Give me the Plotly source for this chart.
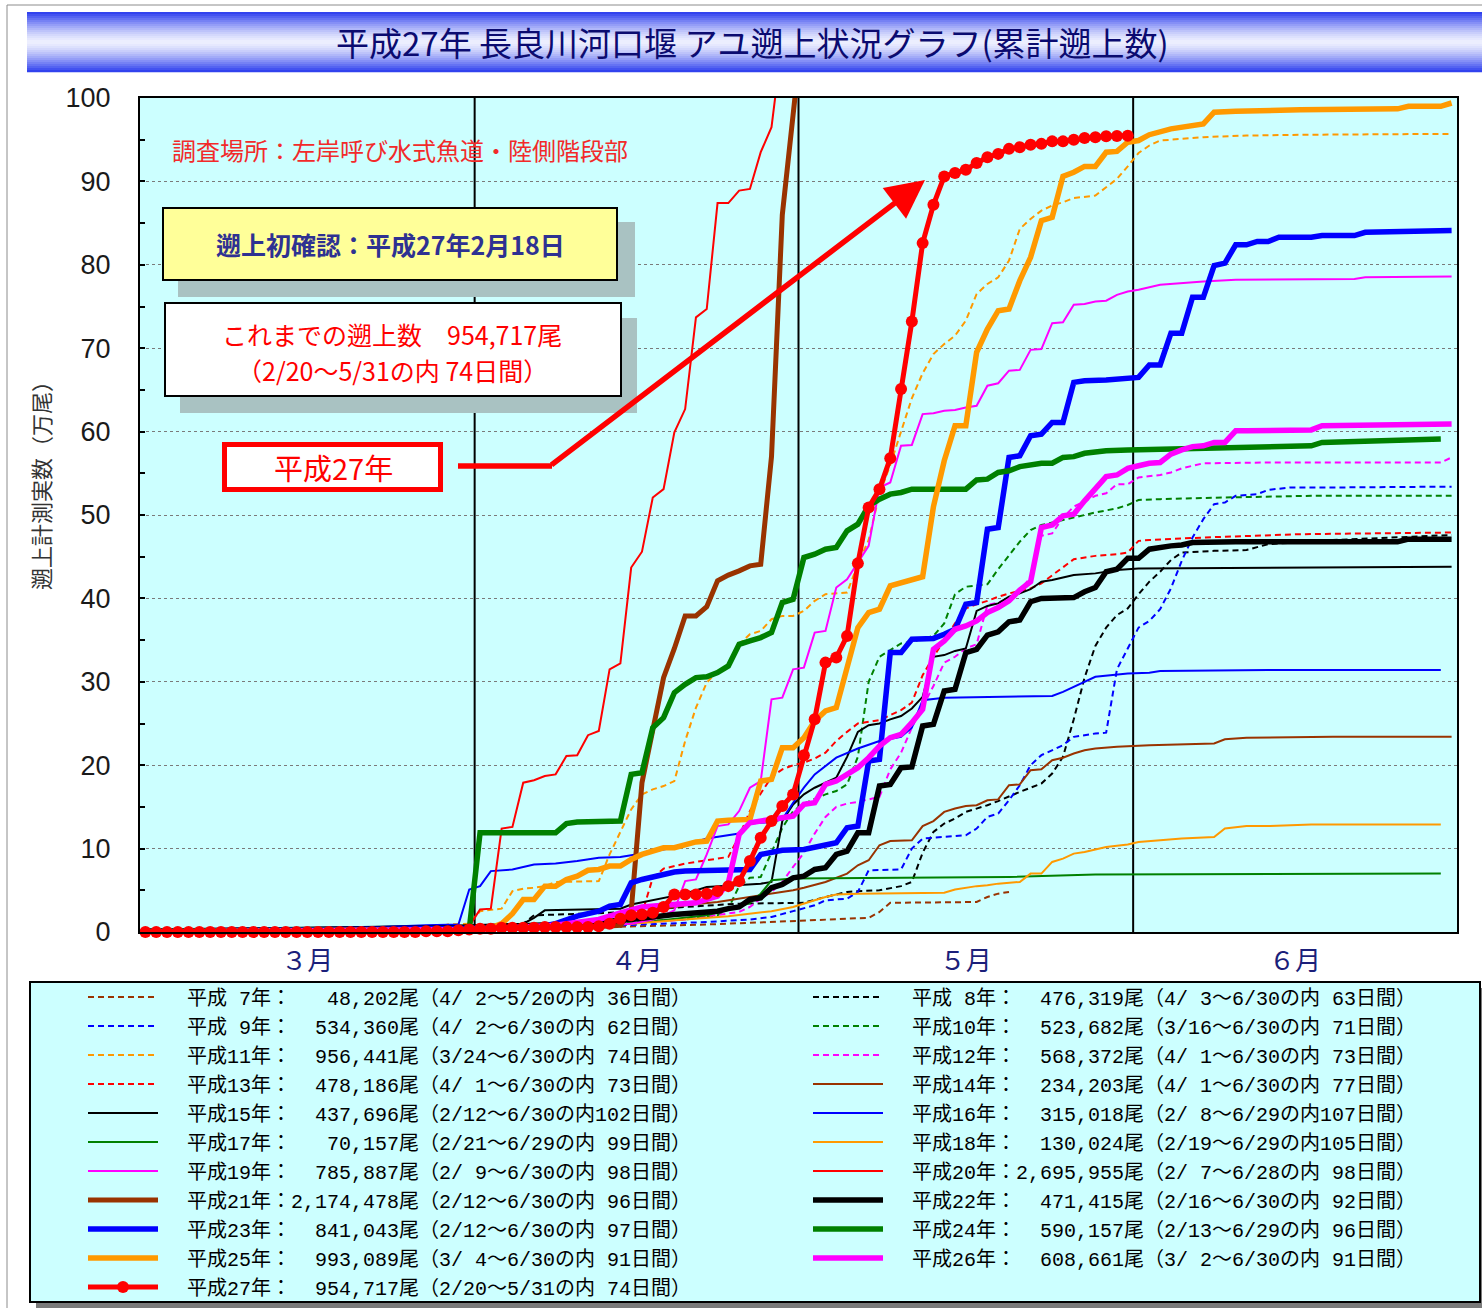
import plotly.graph_objects as go

# ---------------- data ----------------
# x = day index counted from 3/1 (3/1=0, 4/1=31, 5/1=61, 6/1=92, 6/30=121); y = cumulative count (万尾)
H07_day = [31, 40, 48, 52, 56, 60, 63, 67, 68, 69, 77, 78, 79, 80]
H07_val = [0.2, 0.5, 0.7, 0.9, 1.1, 1.3, 1.5, 1.7, 2.4, 3.5, 3.6, 4.2, 4.6, 4.8]

H08_day = [33, 35, 36, 43, 50, 55, 61, 63, 65, 66, 68, 70, 71, 72, 73, 74, 75, 76, 78, 79, 81, 82, 83, 84, 85, 86, 87, 88, 89, 90, 91, 92, 93, 94, 95, 96, 99, 102, 104, 110, 121]
H08_val = [0.3, 1.0, 2.0, 2.3, 3.0, 3.4, 3.5, 4.2, 4.8, 4.9, 5.0, 5.5, 6.0, 9.5, 12.0, 13.0, 13.6, 14.4, 15.2, 15.7, 16.8, 17.3, 17.8, 19.0, 21.0, 25.5, 30.5, 34.3, 36.5, 38.0, 38.8, 40.5, 42.0, 43.2, 44.6, 45.5, 45.7, 45.8, 46.5, 47.0, 47.6]

H09_day = [32, 45, 52, 56, 58, 60, 62, 63, 65, 66, 67, 70, 71, 72, 74, 76, 77, 78, 79, 80, 81, 82, 83, 84, 85, 86, 88, 89, 90, 91, 92, 93, 94, 95, 96, 97, 98, 99, 100, 101, 103, 104, 106, 110, 121]
H09_val = [0.2, 0.8, 1.2, 1.5, 1.8, 2.5, 3.2, 3.8, 4.0, 4.8, 7.4, 7.5, 10.0, 11.2, 11.4, 11.6, 12.4, 13.8, 14.2, 15.8, 17.6, 20.0, 21.2, 21.8, 22.4, 23.4, 23.8, 23.9, 31.5, 34.0, 36.5, 37.3, 38.7, 41.2, 44.5, 47.3, 49.5, 51.3, 51.5, 52.3, 52.5, 53.0, 53.3, 53.3, 53.4]

H10_day = [15, 30, 40, 50, 53, 54, 55, 56, 57, 58, 59, 60, 61, 63, 64, 65, 66, 67, 68, 69, 70, 71, 73, 74, 75, 76, 78, 79, 80, 81, 82, 83, 85, 88, 90, 91, 92, 94, 100, 108, 121]
H10_val = [0.1, 0.5, 1.0, 1.5, 2.0, 2.8, 5.5, 6.5, 6.6, 9.5, 12.5, 14.5, 15.4, 16.5, 16.9, 17.7, 21.0, 30.0, 33.0, 33.8, 34.6, 34.8, 35.5, 37.0, 40.5, 41.4, 41.7, 43.5, 45.2, 46.8, 48.2, 48.8, 49.4, 50.3, 50.8, 51.2, 51.8, 51.9, 52.1, 52.3, 52.3]

H11_day = [23, 27, 28, 30, 31, 33, 34, 35, 36, 37, 38, 42, 43, 44, 45, 46, 47, 48, 49, 50, 51, 52, 53, 54, 55, 56, 57, 58, 59, 60, 61, 62, 63, 65, 66, 67, 68, 69, 70, 71, 72, 73, 74, 75, 76, 77, 78, 79, 80, 81, 82, 83, 84, 85, 86, 88, 89, 90, 91, 92, 93, 94, 95, 98, 102, 108, 121]
H11_val = [0.1, 0.5, 0.9, 1.0, 2.5, 2.8, 4.9, 5.2, 5.3, 5.5, 6.0, 6.1, 9.3, 12.1, 14.7, 16.5, 17.1, 17.5, 18.1, 22.9, 26.9, 29.9, 31.3, 31.9, 34.5, 35.7, 36.1, 37.5, 37.9, 37.9, 38.5, 39.7, 40.5, 40.7, 44.1, 47.0, 52.5, 56.0, 60.0, 64.0, 67.0, 69.3, 70.5, 71.5, 73.3, 76.5, 77.7, 78.5, 80.5, 84.3, 85.5, 86.5, 87.1, 87.5, 88.0, 88.3, 89.3, 90.3, 91.8, 93.4, 94.3, 94.9, 95.0, 95.3, 95.5, 95.6, 95.7]

H12_day = [31, 45, 50, 54, 55, 56, 57, 58, 59, 60, 61, 62, 63, 64, 65, 66, 67, 68, 69, 70, 71, 72, 73, 74, 75, 76, 77, 78, 79, 80, 81, 82, 83, 84, 85, 86, 88, 89, 90, 91, 92, 94, 95, 96, 98, 104, 120, 121]
H12_val = [0.2, 1.0, 1.5, 2.2, 2.4, 3.0, 4.0, 4.8, 6.0, 7.8, 9.5, 11.8, 13.8, 15.0, 15.4, 15.6, 15.9, 16.2, 19.5, 21.5, 24.5, 27.0, 29.5, 32.3, 33.0, 34.0, 34.5, 39.2, 39.5, 40.0, 41.0, 42.5, 47.5, 47.8, 49.7, 51.0, 52.3, 52.6, 53.7, 53.7, 54.5, 54.8, 55.1, 55.6, 56.2, 56.3, 56.3, 56.9]

H13_day = [31, 40, 44, 46, 47, 48, 50, 52, 54, 55, 56, 57, 58, 59, 60, 61, 62, 63, 64, 65, 66, 67, 68, 69, 70, 71, 72, 73, 74, 75, 76, 77, 78, 79, 80, 81, 82, 83, 84, 85, 86, 88, 90, 91, 92, 93, 98, 107, 121]
H13_val = [0.3, 1.0, 1.5, 2.2, 6.5, 7.6, 8.2, 8.6, 9.0, 11.5, 14.5, 16.6, 18.6, 19.5, 20.0, 20.3, 20.8, 21.5, 22.9, 24.0, 25.0, 25.2, 25.4, 26.0, 26.6, 27.5, 30.8, 33.0, 35.0, 37.0, 38.8, 39.3, 39.7, 40.2, 40.6, 40.9, 41.2, 41.8, 42.8, 43.8, 44.7, 45.1, 45.3, 45.5, 46.9, 47.0, 47.3, 47.7, 47.9]

H14_day = [31, 40, 44, 46, 48, 50, 53, 56, 60, 61, 63, 65, 66, 67, 68, 69, 71, 72, 73, 74, 75, 76, 77, 78, 79, 80, 81, 82, 83, 84, 85, 86, 87, 88, 90, 93, 99, 100, 102, 110, 121]
H14_val = [0.2, 0.8, 1.5, 2.2, 2.8, 3.2, 3.6, 4.2, 5.0, 5.3, 6.0, 7.0, 8.0, 8.6, 10.4, 10.9, 11.0, 12.7, 13.3, 14.4, 14.8, 15.1, 15.2, 15.8, 15.9, 17.6, 17.7, 19.4, 19.5, 20.6, 20.9, 21.4, 21.8, 22.0, 22.2, 22.4, 22.6, 23.1, 23.3, 23.4, 23.4]

H15_day = [0, 30, 35, 36, 37, 44, 45, 47, 50, 52, 57, 58, 59, 60, 61, 62, 63, 64, 65, 66, 67, 68, 69, 70, 71, 72, 73, 74, 75, 76, 77, 78, 79, 80, 81, 82, 83, 84, 85, 86, 88, 90, 92, 121]
H15_val = [0.2, 0.8, 1.0, 1.7, 2.6, 2.8, 3.3, 3.8, 4.6, 5.4, 5.8, 6.0, 13.3, 15.3, 16.5, 17.3, 17.9, 18.5, 21.0, 24.0, 24.8, 25.0, 25.5, 25.9, 26.8, 28.2, 33.0, 33.2, 33.7, 34.0, 38.5, 39.1, 39.4, 40.2, 40.6, 41.1, 42.0, 42.2, 42.5, 42.8, 43.0, 43.4, 43.6, 43.8]

H16_day = [0, 20, 26, 29, 30, 31, 32, 34, 36, 38, 40, 42, 44, 46, 48, 50, 52, 55, 56, 58, 59, 60, 61, 62, 64, 66, 68, 70, 71, 72, 74, 84, 85, 86, 88, 91, 93, 94, 104, 120]
H16_val = [0.1, 0.5, 0.8, 0.9, 5.1, 5.5, 7.3, 7.5, 8.1, 8.2, 8.5, 8.9, 9.0, 9.4, 9.9, 10.4, 11.2, 11.8, 13.0, 13.2, 13.5, 15.5, 17.3, 18.9, 20.9, 22.0, 22.9, 23.4, 24.5, 27.8, 28.1, 28.3, 28.8, 29.4, 30.6, 31.0, 31.1, 31.3, 31.4, 31.4]

H17_day = [0, 30, 45, 52, 55, 56, 57, 58, 60, 80, 88, 120]
H17_val = [0.1, 0.3, 1.0, 2.0, 3.0, 3.5, 4.6, 6.2, 6.4, 6.6, 6.9, 7.0]

H18_day = [0, 30, 40, 45, 50, 54, 58, 60, 62, 63, 64, 66, 74, 75, 77, 78, 79, 81, 82, 83, 84, 85, 86, 87, 88, 89, 91, 92, 94, 96, 99, 100, 102, 104, 108, 120]
H18_val = [0.1, 0.2, 0.6, 1.0, 1.5, 1.9, 2.5, 3.0, 3.8, 4.2, 4.5, 4.6, 4.7, 5.1, 5.5, 5.6, 5.8, 6.0, 7.0, 7.0, 8.4, 8.8, 9.4, 9.6, 9.9, 10.2, 10.5, 10.8, 11.0, 11.2, 11.4, 12.4, 12.7, 12.7, 12.9, 12.9]

H19_day = [0, 30, 40, 45, 47, 48, 49, 50, 51, 52, 53, 54, 55, 56, 57, 58, 59, 60, 61, 62, 63, 64, 65, 66, 67, 68, 69, 70, 71, 72, 73, 74, 75, 76, 77, 78, 79, 80, 81, 82, 83, 84, 85, 86, 87, 88, 89, 90, 91, 92, 93, 94, 98, 101, 112, 113, 121]
H19_val = [0.1, 0.4, 0.8, 1.0, 1.5, 2.0, 2.6, 6.1, 6.3, 9.3, 12.7, 12.9, 14.5, 17.3, 18.1, 27.9, 28.1, 31.5, 31.7, 35.9, 36.1, 41.3, 42.3, 44.3, 46.3, 53.3, 53.9, 58.3, 58.4, 62.1, 62.2, 62.5, 62.6, 62.9, 63.1, 65.5, 65.8, 67.3, 67.4, 69.8, 69.9, 73.0, 73.1, 75.2, 75.3, 75.6, 75.7, 76.4, 76.8, 77.0, 77.3, 77.6, 78.0, 78.2, 78.3, 78.5, 78.6]

H20_day = [0, 29, 30, 31, 32, 33, 34, 35, 36, 37, 38, 39, 40, 41, 42, 43, 44, 45, 46, 47, 48, 49, 50, 51, 52, 53, 54, 55, 56, 57, 58, 59]
H20_val = [0.1, 0.2, 0.7, 2.7, 2.8, 12.4, 12.6, 17.9, 18.2, 18.7, 18.9, 21.1, 21.2, 23.6, 24.1, 31.5, 32.2, 43.7, 45.6, 52.1, 53.1, 59.9, 62.7, 73.7, 74.7, 87.4, 87.4, 88.9, 89.1, 93.5, 96.5, 107.0]

H21_day = [0, 30, 40, 44, 45, 46, 47, 48, 49, 50, 51, 52, 53, 54, 55, 56, 57, 58, 59, 60, 61]
H21_val = [0.1, 0.3, 0.5, 0.8, 2.5, 17.9, 24.0, 30.5, 34.0, 37.9, 37.9, 39.0, 42.1, 42.8, 43.3, 43.9, 44.1, 57.0, 86.0, 99.0, 110.0]

H22_day = [0, 30, 40, 45, 49, 52, 53, 54, 55, 56, 57, 58, 59, 60, 61, 62, 63, 64, 65, 66, 67, 68, 69, 70, 71, 72, 73, 74, 75, 76, 77, 78, 79, 80, 81, 82, 83, 86, 87, 88, 89, 90, 91, 92, 93, 95, 96, 97, 101, 116, 117, 121]
H22_val = [0.1, 0.5, 1.0, 1.5, 2.1, 2.3, 2.5, 2.8, 3.0, 3.9, 4.1, 5.3, 5.7, 6.5, 6.7, 7.5, 7.7, 9.3, 9.7, 11.9, 11.9, 17.5, 17.7, 19.7, 19.8, 24.7, 24.9, 28.9, 29.1, 33.5, 33.9, 35.6, 36.0, 37.2, 37.4, 39.6, 40.0, 40.1, 40.8, 41.3, 43.2, 43.5, 44.8, 44.8, 45.9, 46.3, 46.4, 46.7, 46.8, 46.8, 47.1, 47.1]

H23_day = [0, 30, 36, 38, 39, 40, 42, 43, 44, 45, 46, 47, 48, 49, 50, 55, 56, 57, 58, 59, 61, 62, 63, 64, 65, 66, 67, 68, 69, 70, 71, 73, 74, 75, 76, 77, 78, 79, 80, 81, 82, 83, 84, 85, 86, 87, 89, 90, 91, 92, 93, 94, 95, 96, 97, 98, 99, 100, 101, 102, 103, 104, 105, 108, 109, 112, 113, 117, 121]
H23_val = [0.1, 0.3, 0.5, 1.0, 1.5, 1.9, 2.5, 3.1, 3.3, 5.9, 6.3, 6.6, 6.9, 7.2, 7.3, 7.4, 7.5, 9.3, 9.5, 9.8, 9.9, 10.2, 10.5, 10.7, 12.5, 12.7, 20.5, 20.7, 33.5, 33.5, 35.1, 35.2, 35.7, 36.3, 39.3, 39.5, 48.3, 48.5, 56.9, 57.1, 59.5, 59.7, 61.1, 61.1, 65.9, 66.1, 66.2, 66.3, 66.5, 66.5, 68.0, 68.0, 71.8, 71.8, 76.1, 76.1, 79.9, 80.2, 82.4, 82.4, 82.8, 82.8, 83.3, 83.3, 83.5, 83.5, 83.9, 84.0, 84.1]

H24_day = [0, 30, 31, 38, 39, 40, 44, 45, 46, 47, 48, 49, 50, 51, 52, 53, 54, 55, 56, 57, 58, 59, 60, 61, 62, 63, 64, 65, 66, 67, 68, 69, 70, 71, 76, 77, 78, 79, 80, 81, 83, 84, 85, 86, 87, 89, 91, 98, 108, 109, 117, 120]
H24_val = [0.1, 0.3, 11.9, 11.9, 13.0, 13.2, 13.3, 18.9, 19.1, 24.5, 25.7, 28.7, 29.7, 30.5, 30.6, 31.1, 31.9, 34.5, 34.9, 35.3, 35.9, 39.5, 39.9, 44.9, 45.3, 45.9, 46.1, 48.1, 48.9, 51.1, 51.9, 52.5, 52.7, 53.1, 53.1, 54.2, 54.3, 55.1, 55.3, 55.8, 56.2, 56.2, 56.9, 57.0, 57.4, 57.7, 57.8, 58.0, 58.3, 58.7, 58.9, 59.1]

H25_day = [3, 31, 32, 33, 34, 35, 36, 37, 38, 39, 40, 41, 42, 43, 44, 45, 46, 47, 48, 49, 50, 51, 52, 53, 54, 55, 56, 57, 58, 59, 60, 61, 62, 63, 64, 65, 66, 67, 68, 69, 70, 71, 72, 73, 74, 75, 76, 77, 78, 79, 80, 81, 82, 83, 84, 85, 86, 87, 88, 89, 90, 91, 92, 93, 94, 95, 98, 99, 101, 107, 116, 117, 120, 121]
H25_val = [0.0, 0.3, 0.5, 1.0, 2.2, 3.9, 3.9, 5.5, 5.5, 6.3, 6.7, 7.4, 7.5, 7.9, 7.9, 8.7, 9.3, 9.7, 10.1, 10.1, 10.5, 10.8, 10.9, 13.3, 13.4, 13.5, 13.5, 18.1, 18.3, 22.1, 22.1, 23.3, 25.3, 26.5, 26.9, 31.7, 36.5, 38.3, 38.7, 41.5, 41.9, 42.3, 42.6, 51.0, 56.5, 60.7, 60.7, 69.5, 72.3, 74.5, 74.7, 78.1, 80.9, 85.3, 85.7, 90.6, 91.1, 91.8, 91.8, 93.5, 93.6, 94.7, 94.9, 95.6, 95.9, 96.3, 96.9, 98.3, 98.4, 98.6, 98.7, 99.0, 99.0, 99.4]

H26_day = [1, 30, 38, 42, 44, 46, 48, 50, 51, 52, 53, 54, 55, 56, 57, 58, 59, 60, 61, 62, 63, 64, 65, 66, 67, 68, 69, 70, 71, 72, 73, 74, 75, 76, 77, 78, 79, 80, 81, 82, 83, 84, 85, 86, 87, 88, 89, 90, 91, 92, 93, 94, 95, 96, 97, 98, 99, 100, 101, 102, 108, 109, 121]
H26_val = [0.0, 0.3, 0.8, 1.5, 2.3, 3.0, 3.2, 3.3, 3.5, 3.9, 4.3, 5.9, 11.7, 13.1, 13.3, 13.4, 13.7, 13.9, 15.3, 15.5, 17.7, 18.1, 18.9, 19.7, 20.9, 22.3, 23.3, 23.7, 25.1, 26.7, 33.9, 34.9, 36.3, 36.7, 37.3, 38.3, 38.9, 39.7, 41.0, 42.0, 48.5, 48.8, 49.9, 50.1, 51.7, 53.1, 54.6, 54.8, 55.6, 55.9, 56.2, 56.3, 57.3, 57.8, 58.2, 58.3, 58.7, 58.7, 60.1, 60.1, 60.2, 60.7, 60.9]

H27_day = list(range(0, 92))
H27_val = [0.0] * 26 + [0.1, 0.1, 0.1, 0.2, 0.3, 0.4, 0.4, 0.5, 0.5, 0.5, 0.5, 0.6, 0.6, 0.6, 0.6, 0.6, 0.7, 1.0, 1.6, 2.0,
                        2.1, 2.3, 3.0, 4.5, 4.5, 4.5, 4.6, 4.9, 5.5, 6.1, 8.5, 11.3, 13.3, 15.1, 16.5, 21.2, 25.5, 32.3, 32.9, 35.5,
                        44.2, 50.9, 53.1, 56.8, 65.1, 73.2, 82.6, 87.2, 90.6, 91.0, 91.4, 92.2, 92.9, 93.3, 93.9, 94.1, 94.4, 94.5, 94.8, 94.8,
                        95.0, 95.2, 95.3, 95.4, 95.45, 95.47]

YEARS = [7, 8, 9, 10, 11, 12, 13, 14, 15, 16, 17, 18, 19, 20, 21, 22, 23, 24, 25, 26, 27]
TOTALS = [48202, 476319, 534360, 523682, 956441, 568372, 478186, 234203, 437696, 315018, 70157,
          130024, 785887, 2695955, 2174478, 471415, 841043, 590157, 993089, 608661, 954717]
PERIODS = ["4/ 2～5/20", "4/ 3～6/30", "4/ 2～6/30", "3/16～6/30", "3/24～6/30", "4/ 1～6/30", "4/ 1～6/30",
           "4/ 1～6/30", "2/12～6/30", "2/ 8～6/29", "2/21～6/29", "2/19～6/29", "2/ 9～6/30", "2/ 7～6/28",
           "2/12～6/30", "2/16～6/30", "2/12～6/30", "2/13～6/29", "3/ 4～6/30", "3/ 2～6/30", "2/20～5/31"]
NDAYS = [36, 63, 62, 71, 74, 73, 73, 77, 102, 107, 99, 105, 98, 98, 96, 92, 97, 96, 91, 91, 74]
MONTH_POS = [15, 45.5, 76, 106.5]
MONTH_LABELS = ["３月", "４月", "５月", "６月"]
MONTH_BOUNDS = [30.5, 60.5, 91.5]

SERIES = {7: (H07_day, H07_val), 8: (H08_day, H08_val), 9: (H09_day, H09_val), 10: (H10_day, H10_val),
          11: (H11_day, H11_val), 12: (H12_day, H12_val), 13: (H13_day, H13_val), 14: (H14_day, H14_val),
          15: (H15_day, H15_val), 16: (H16_day, H16_val), 17: (H17_day, H17_val), 18: (H18_day, H18_val),
          19: (H19_day, H19_val), 20: (H20_day, H20_val), 21: (H21_day, H21_val), 22: (H22_day, H22_val),
          23: (H23_day, H23_val), 24: (H24_day, H24_val), 25: (H25_day, H25_val), 26: (H26_day, H26_val),
          27: (H27_day, H27_val)}

# ---------------- styles ----------------
BROWN, BLUE, ORANGE, RED, BLACK, GREEN, MAGENTA = "#993300", "#0000FF", "#FF9900", "#FF0000", "#000000", "#008000", "#FF00FF"
DASH = "6px,4px"
STYLE = {7: (BROWN, 2, DASH), 8: (BLACK, 2, DASH), 9: (BLUE, 2, DASH), 10: (GREEN, 2, DASH),
         11: (ORANGE, 2, DASH), 12: (MAGENTA, 2, DASH), 13: (RED, 2, DASH),
         14: (BROWN, 2, "solid"), 15: (BLACK, 2, "solid"), 16: (BLUE, 2, "solid"), 17: (GREEN, 2, "solid"),
         18: (ORANGE, 2, "solid"), 19: (MAGENTA, 2, "solid"), 20: (RED, 2, "solid"),
         21: (BROWN, 5, "solid"), 22: (BLACK, 5.5, "solid"), 23: (BLUE, 5.5, "solid"), 24: (GREEN, 5.5, "solid"),
         25: (ORANGE, 5.5, "solid"), 26: (MAGENTA, 5.5, "solid"), 27: (RED, 5, "solid")}

W, H = 1482, 1308
ML, MR, MT, MB = 140, 25, 98, 376
PW, PH = W - ML - MR, H - MT - MB
XMIN, XMAX = -0.5, 121.5


def px(x):
    return (x - ML) / PW


def py(y):
    return (H - MB - y) / PH


def dx(x):
    return (x - ML) / PW * (XMAX - XMIN) + XMIN


def dy(y):
    return (H - MB - y) / PH * 100


NB = "\u00a0"


def legend_name(y, tot, per, nd):
    s = f"平成{y:>2}年：{tot:>9,}尾（{per}の内{nd:>3}日間）"
    return NB * 2 + s.replace(" ", NB)


fig = go.Figure()
for i, yr in enumerate(YEARS):
    d, v = SERIES[yr]
    col, wd, dash = STYLE[yr]
    kw = dict(x=d, y=v, name=legend_name(yr, TOTALS[i], PERIODS[i], NDAYS[i]),
              line=dict(color=col, width=wd, dash=dash), hoverinfo="skip")
    if yr == 27:
        kw.update(mode="lines+markers", marker=dict(size=12, color=RED), cliponaxis=False)
    else:
        kw.update(mode="lines")
    fig.add_trace(go.Scatter(**kw))

shapes = []
# outer frame
shapes.append(dict(type="rect", xref="paper", yref="paper", x0=px(7), x1=px(1500), y0=py(5), y1=py(1330),
                   line=dict(color="#8c8c8c", width=1), fillcolor="rgba(0,0,0,0)", layer="below"))
# title band gradient
N = 30
top, bot = 12, 72
for k in range(N):
    y0p = top + (bot - top) * k / N
    y1p = top + (bot - top) * (k + 1) / N
    mid = (y0p + y1p) / 2
    t = abs(mid - (top + bot) / 2) / ((bot - top) / 2)
    t = t ** 1.4
    c0 = (238, 240, 255)
    c1 = (40, 58, 238)
    c = tuple(int(c0[j] + (c1[j] - c0[j]) * t) for j in range(3))
    shapes.append(dict(type="rect", xref="paper", yref="paper", x0=px(27), x1=px(1490),
                       y0=py(y1p + 0.3), y1=py(y0p), line=dict(width=0),
                       fillcolor="rgb(%d,%d,%d)" % c, layer="below"))
# legend box with shadow
shapes.append(dict(type="rect", xref="paper", yref="paper", x0=px(36), x1=px(1488), y0=py(1308), y1=py(988),
                   line=dict(width=0), fillcolor="#7a7a7a", layer="below"))
shapes.append(dict(type="rect", xref="paper", yref="paper", x0=px(30), x1=px(1480), y0=py(1302), y1=py(982),
                   line=dict(color="black", width=2), fillcolor="#CCFFFF", layer="below"))
# month boundaries
for b in MONTH_BOUNDS:
    shapes.append(dict(type="line", xref="x", yref="paper", x0=b, x1=b, y0=0, y1=1,
                       line=dict(color="black", width=2), layer="below"))
# annotation boxes
SH = "#A9C2C2"
shapes.append(dict(type="rect", xref="paper", yref="paper", x0=px(178), x1=px(635), y0=py(297), y1=py(222),
                   line=dict(width=0), fillcolor=SH, layer="above"))
shapes.append(dict(type="rect", xref="paper", yref="paper", x0=px(163), x1=px(617), y0=py(280), y1=py(208),
                   line=dict(color="black", width=2), fillcolor="#FFFF99", layer="above"))
shapes.append(dict(type="rect", xref="paper", yref="paper", x0=px(180), x1=px(637), y0=py(413), y1=py(318),
                   line=dict(width=0), fillcolor=SH, layer="above"))
shapes.append(dict(type="rect", xref="paper", yref="paper", x0=px(165), x1=px(621), y0=py(396), y1=py(303),
                   line=dict(color="black", width=2), fillcolor="white", layer="above"))
shapes.append(dict(type="rect", xref="paper", yref="paper", x0=px(224.5), x1=px(440.5), y0=py(489.5), y1=py(444.5),
                   line=dict(color=RED, width=5), fillcolor="white", layer="above"))
shapes.append(dict(type="line", xref="x", yref="y", x0=dx(458), x1=dx(552), y0=dy(466), y1=dy(466),
                   line=dict(color=RED, width=5.5), layer="above"))

JP = "Noto Sans CJK JP"


def label(text, xp, yp, size, color, **extra):
    font = dict(family=JP, size=size, color=color)
    if "weight" in extra:
        font["weight"] = extra.pop("weight")
    return dict(text=text, xref="paper", yref="paper", x=px(xp), y=py(yp), xanchor="center",
                yanchor="middle", showarrow=False, font=font, **extra)


annotations = [
    label("平成27年 長良川河口堰 アユ遡上状況グラフ(累計遡上数)", 752, 42, 33, "#0b0b70"),
    label("遡上計測実数（万尾）", 40, 480, 22, "#333333", textangle=-90),
    label("調査場所：左岸呼び水式魚道・陸側階段部", 400, 150, 24, "#F22A2A"),
    label("遡上初確認：平成27年2月18日", 390, 244, 25, "#2E3192", weight="bold"),
    label("これまでの遡上数　954,717尾", 392, 334, 25, RED),
    label("（2/20～5/31の内 74日間）", 392, 370, 25, RED),
    label("平成27年", 333, 467, 29, RED),
    dict(text="", x=dx(925), y=dy(180), xref="x", yref="y", ax=dx(550), ay=dy(466), axref="x", ayref="y",
         showarrow=True, arrowhead=2, arrowsize=1.4, arrowwidth=5.5, arrowcolor=RED),
]

fig.update_layout(
    width=W, height=H,
    margin=dict(l=ML, r=MR, t=MT, b=MB, autoexpand=False),
    paper_bgcolor="white", plot_bgcolor="#CCFFFF",
    shapes=shapes, annotations=annotations,
    showlegend=True,
    legend=dict(orientation="h", x=px(83), xanchor="left", y=py(977.5), yanchor="top",
                font=dict(family="Liberation Mono, " + JP, size=20, color="black"),
                bgcolor="rgba(0,0,0,0)", borderwidth=0, itemwidth=70,
                entrywidth=640, entrywidthmode="pixels", traceorder="normal",
                itemclick=False, itemdoubleclick=False),
    xaxis=dict(range=[XMIN, XMAX], tickmode="array", tickvals=MONTH_POS, ticktext=MONTH_LABELS,
               ticks="", showgrid=False, zeroline=False, showline=True, mirror=True,
               linecolor="black", linewidth=2, ticklabelstandoff=5,
               tickfont=dict(family=JP, size=26, color="#1b1f7a"), fixedrange=True),
    yaxis=dict(range=[0, 100], tickmode="array", tickvals=list(range(0, 101, 10)),
               ticks="inside", ticklen=5, tickwidth=2, tickcolor="black",
               minor=dict(tickvals=list(range(5, 100, 10)), ticks="inside", ticklen=5, tickwidth=2,
                          tickcolor="black", showgrid=False),
               showgrid=True, gridcolor="#7a7a7a", griddash="dot", gridwidth=1,
               zeroline=False, showline=True, mirror=True, linecolor="black", linewidth=2,
               ticklabelstandoff=22, tickfont=dict(family="Liberation Sans", size=27, color="#1a1a1a"),
               fixedrange=True),
)

fig.write_html("out.html", config={"displayModeBar": False},
               post_script="document.body.style.margin='0';document.body.style.overflow='hidden';")
